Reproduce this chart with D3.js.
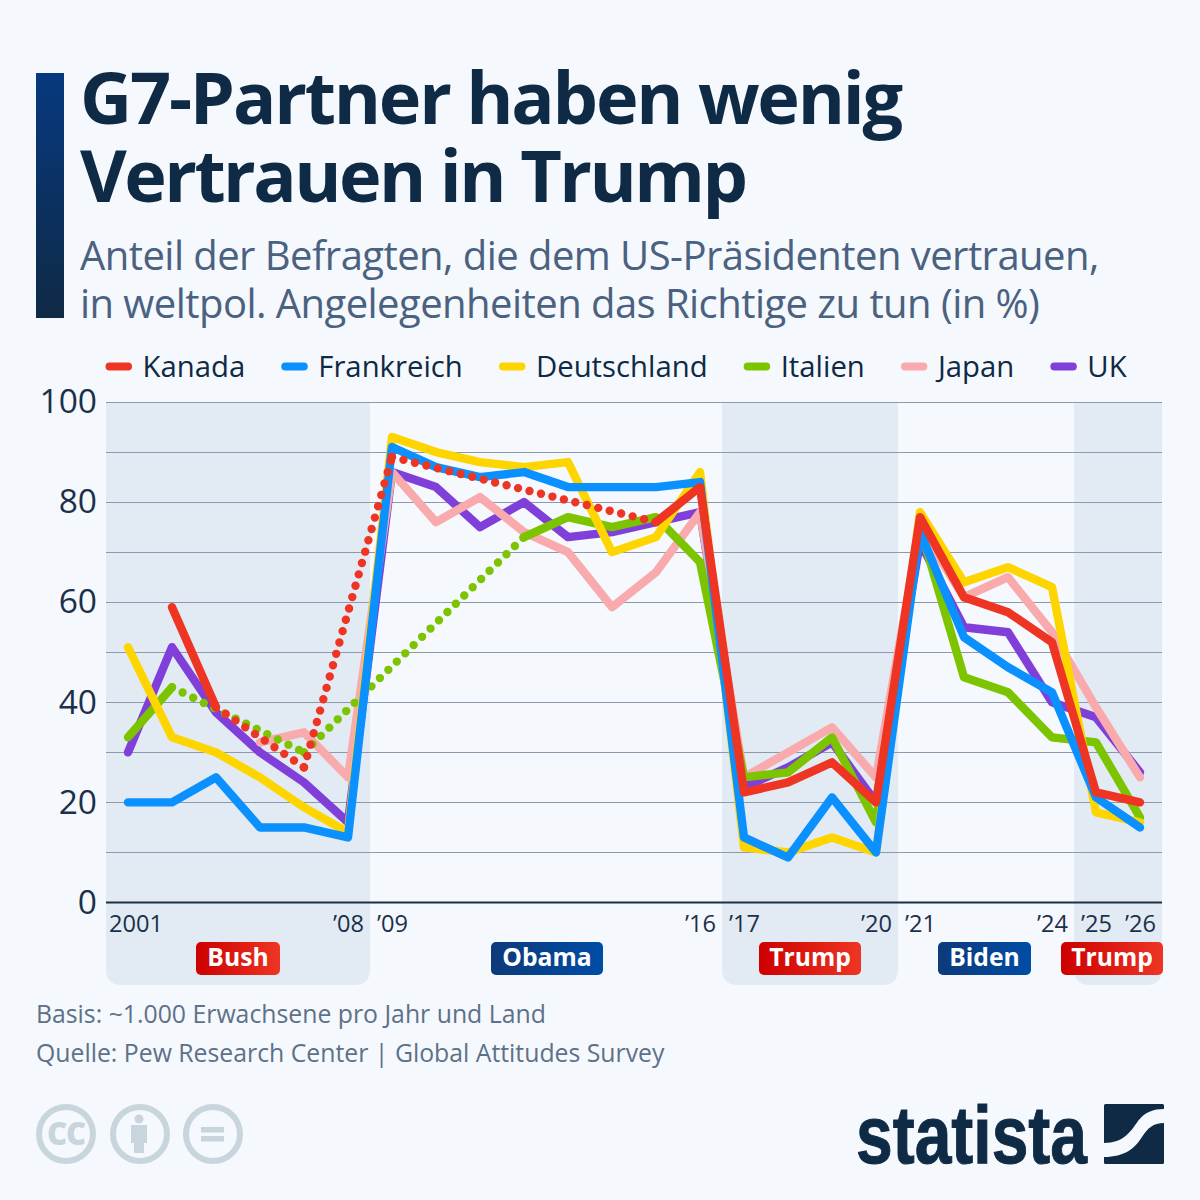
<!DOCTYPE html>
<html lang="de">
<head>
<meta charset="utf-8">
<style>
  html, body { margin: 0; padding: 0; background: #f5f8fc; }
  svg { display: block; font-family: "Open Sans", sans-serif; }
</style>
<script src="https://cdn.jsdelivr.net/npm/d3@7/dist/d3.min.js"></script>
</head>
<body>
<svg id="chart" width="1200" height="1200"></svg>
<script>
// Survey waves on the x axis; only some of them carry a label.
const years = ["2001","2002","2003","2005","2007","2008","2009","2010","2011","2012","2013","2014","2015","2016","2017","2018","2019","2020","2021","2022","2023","2024","2025","2026"];
const yearLabels = ["2001","’08","’09","’16","’17","’20","’21","’24","’25","’26"];
const labelledYears = ["2001","2008","2009","2016","2017","2020","2021","2024","2025","2026"];
const yTicks = [0, 20, 40, 60, 80, 100];
const gridValues = [10, 20, 30, 40, 50, 60, 70, 80, 90, 100];

// Confidence in the US president, percent. null = no survey that year.
const kanada = [null,59,39,null,27,null,89,null,null,null,null,null,76,83,22,24,28,20,77,61,58,52,22,20];
const frankreich = [20,20,25,15,15,13,91,87,85,86,83,83,83,84,13,9,21,10,74,53,47,42,21,15];
const deutschland = [51,33,30,25,19,14,93,90,88,87,88,70,73,86,11,10,13,10,78,64,67,63,18,16];
const italien = [33,43,null,null,30,null,null,null,null,73,77,75,77,68,25,26,33,16,75,45,42,33,32,17];
const japan = [null,null,null,32,34,25,86,76,81,74,70,59,66,78,25,30,35,25,75,61,65,54,39,25];
const uk = [30,51,38,30,24,16,86,83,75,80,73,74,76,78,23,27,32,20,72,55,54,40,37,26];

const seriesNames = ["Kanada","Frankreich","Deutschland","Italien","Japan","UK"];
const seriesValues = [kanada, frankreich, deutschland, italien, japan, uk];
const seriesColors = ["#ee3524","#0a90ff","#ffd500","#7dc400","#f9aaad","#7f3fd8"];

// Presidencies: shaded when the term is Republican, badge below the axis.
const termNames = ["Bush","Obama","Trump","Biden","Trump"];
const termFirst = ["2001","2009","2017","2021","2025"];
const termLast = ["2008","2016","2020","2024","2026"];
const termShaded = [true,false,true,false,true];
const termParty = ["rep","dem","rep","dem","rep"];

const titleLines = ["G7-Partner haben wenig","Vertrauen in Trump"];
const subtitleLines = ["Anteil der Befragten, die dem US-Präsidenten vertrauen,","in weltpol. Angelegenheiten das Richtige zu tun (in %)"];
const footerLines = ["Basis: ~1.000 Erwachsene pro Jahr und Land","Quelle: Pew Research Center | Global Attitudes Survey"];

const INK = "#0f2a45";
const svg = d3.select("#chart");
const defs = svg.append("defs");

function hGradient(id, from, to) {
  const g = defs.append("linearGradient").attr("id", id);
  g.append("stop").attr("offset", "0%").attr("stop-color", from);
  g.append("stop").attr("offset", "100%").attr("stop-color", to);
}
hGradient("badge-rep", "#cc0000", "#ee3524");
hGradient("badge-dem", "#0d3a7a", "#004da6");
const barGrad = defs.append("linearGradient").attr("id", "bar-grad").attr("x2", 0).attr("y2", 1);
barGrad.append("stop").attr("offset", "0%").attr("stop-color", "#07397f");
barGrad.append("stop").attr("offset", "100%").attr("stop-color", "#0f2a45");

// Header: tight tracking on the large type
svg.append("rect").attr("x", 36).attr("y", 73).attr("width", 28).attr("height", 245).attr("fill", "url(#bar-grad)");
svg.append("g").selectAll("text").data(titleLines).join("text")
  .attr("x", 80).attr("y", (d, i) => 123.5 + i * 78)
  .attr("font-size", 72).attr("font-weight", 700).attr("fill", INK)
  .attr("letter-spacing", (d, i) => [-2.2, -2.55][i]).text(d => d);
svg.append("g").selectAll("text").data(subtitleLines).join("text")
  .attr("x", 80).attr("y", (d, i) => 270 + i * 48)
  .attr("font-size", 40).attr("letter-spacing", -0.55).attr("fill", "#4a6180").text(d => d);

// Scales
const x = d3.scalePoint().domain(years).range([128, 1140]);
const y = d3.scaleLinear().domain([0, 100]).range([902.5, 402]);
const plotLeft = 106, plotRight = 1162;

// Term shading runs from the top of the plot down behind the badges
const shadePad = 22, shadeBottom = 985, shadeRadius = 16;
const shadePath = (x0, x1, top, bottom, r) =>
  `M${x0},${top}H${x1}V${bottom - r}Q${x1},${bottom} ${x1 - r},${bottom}H${x0 + r}Q${x0},${bottom} ${x0},${bottom - r}Z`;
svg.append("g").selectAll("path")
  .data(termNames.map((n, i) => i).filter(i => termShaded[i]))
  .join("path")
  .attr("d", i => shadePath(
    Math.max(plotLeft, x(termFirst[i]) - shadePad),
    Math.min(plotRight, x(termLast[i]) + shadePad),
    y(100), shadeBottom, shadeRadius))
  .attr("fill", "#e2eaf3");

// Grid and axes
svg.append("g").selectAll("line").data(gridValues).join("line")
  .attr("x1", plotLeft).attr("x2", plotRight)
  .attr("y1", d => Math.round(y(d)) + 0.5).attr("y2", d => Math.round(y(d)) + 0.5)
  .attr("stroke", "#8d9aad").attr("stroke-width", 1);
svg.append("line").attr("x1", plotLeft).attr("x2", plotRight)
  .attr("y1", y(0)).attr("y2", y(0)).attr("stroke", "#1b3049").attr("stroke-width", 2);

const yAxis = d3.axisLeft(y).tickValues(yTicks).tickSize(0).tickPadding(0);
svg.append("g").attr("transform", "translate(97,0)").call(yAxis)
  .call(g => g.select(".domain").remove())
  .call(g => g.selectAll("text").attr("font-size", 33.5).attr("font-family", "'Open Sans', sans-serif").attr("fill", "#1b3049"));

const labelOf = d => yearLabels[labelledYears.indexOf(d)];
const xAxis = d3.axisBottom(x).tickValues(labelledYears).tickFormat(labelOf).tickSize(0).tickPadding(0);
svg.append("g").attr("transform", "translate(0,932)").call(xAxis)
  .call(g => g.select(".domain").remove())
  .call(g => g.selectAll("text").attr("y", 0).attr("dy", 0)
    .attr("font-size", 23.6).attr("font-family", "'Open Sans', sans-serif").attr("fill", "#1b3049"))
  .call(g => g.selectAll(".tick").filter(d => d === "2001").select("text")
    .attr("text-anchor", "start").attr("x", -19.5));

// Lines: solid between consecutive surveys, dotted across missing years.
// Kanada ends up on top because the list is drawn back to front.
const lineGen = d3.line()
  .defined(d => d.v !== null)
  .x(d => x(d.year)).y(d => y(d.v));
const lines = svg.append("g").attr("fill", "none").attr("stroke-linecap", "round").attr("stroke-linejoin", "round");
d3.range(seriesNames.length).reverse().forEach(s => {
  const pts = years.map((year, i) => ({ year, v: seriesValues[s][i] }));
  const known = pts.filter(d => d.v !== null);
  const gaps = d3.pairs(known).filter(([a, b]) => years.indexOf(b.year) - years.indexOf(a.year) > 1);
  lines.selectAll(null).data(gaps).join("path")
    .attr("d", d => lineGen(d))
    .attr("stroke", seriesColors[s]).attr("stroke-width", 8.4).attr("stroke-dasharray", "0 11.8");
  lines.append("path").attr("d", lineGen(pts))
    .attr("stroke", seriesColors[s]).attr("stroke-width", 8.4);
});

// Legend laid out from measured text widths
const legend = svg.append("g");
let lx = 106;
seriesNames.forEach((name, i) => {
  legend.append("line").attr("x1", lx + 3.5).attr("x2", lx + 22).attr("y1", 366.5).attr("y2", 366.5)
    .attr("stroke", seriesColors[i]).attr("stroke-width", 8).attr("stroke-linecap", "round");
  const t = legend.append("text").attr("x", lx + 36.5).attr("y", 377)
    .attr("font-size", 29.3).attr("fill", INK).text(name);
  lx += 36.5 + t.node().getComputedTextLength() + 36.6;
});

// Presidency badges under the axis
const badgeWidths = [84, 112, 102, 93, 102];
const badgeCenters = [238, 547, 810, 984.5, 1112];
const badges = svg.append("g").selectAll("g").data(termNames).join("g")
  .attr("transform", (d, i) => `translate(${badgeCenters[i] - badgeWidths[i] / 2},942)`);
badges.append("rect").attr("width", (d, i) => badgeWidths[i]).attr("height", 33).attr("rx", 5)
  .attr("fill", (d, i) => `url(#badge-${termParty[i]})`);
badges.append("text").attr("x", (d, i) => badgeWidths[i] / 2).attr("y", 24)
  .attr("text-anchor", "middle").attr("font-size", 24.7).attr("font-weight", 700).attr("fill", "#fff").text(d => d);

// Footer notes
svg.append("g").selectAll("text").data(footerLines).join("text")
  .attr("x", 36).attr("y", (d, i) => 1023 + i * 38.5)
  .attr("font-size", 24.8).attr("fill", "#5d7188").text(d => d);

// Creative Commons marks
const ccColor = "#c8d5dc";
const cc = svg.append("g");
[66, 140, 213].forEach(cx => {
  cc.append("circle").attr("cx", cx).attr("cy", 1134).attr("r", 27).attr("fill", "none")
    .attr("stroke", ccColor).attr("stroke-width", 6);
});
cc.append("text").attr("x", 66).attr("y", 1145).attr("text-anchor", "middle")
  .attr("font-size", 31).attr("font-weight", 800).attr("letter-spacing", -1).attr("fill", ccColor).text("CC");
cc.append("circle").attr("cx", 139).attr("cy", 1119).attr("r", 4.5).attr("fill", ccColor);
cc.append("path").attr("fill", ccColor)
  .attr("d", "M131,1125H147V1143H144V1153H134V1143H131Z");
cc.append("rect").attr("x", 201).attr("y", 1127).attr("width", 23).attr("height", 5.5).attr("fill", ccColor);
cc.append("rect").attr("x", 201).attr("y", 1136).attr("width", 23).attr("height", 5.5).attr("fill", ccColor);

// Statista wordmark
svg.append("text").attr("x", 856).attr("y", 1163)
  .attr("font-family", "'Liberation Sans Narrow','Liberation Sans',sans-serif")
  .attr("font-weight", 700).attr("font-size", 82).attr("fill", INK)
  .attr("stroke", INK).attr("stroke-width", 1)
  .attr("textLength", 231).attr("lengthAdjust", "spacingAndGlyphs").text("statista");
const mark = svg.append("g").attr("transform", "translate(1104,1104)");
mark.append("rect").attr("width", 60).attr("height", 60).attr("rx", 1.5).attr("fill", INK);
mark.append("path").attr("fill", "#f5f8fc")
  .attr("d", "M0,39C20,39 27,27 34,17C41,8 49,5 60,5V19C49,19 44,24 38,33C31,44 21,53 0,53Z");
</script>
</body>
</html>
